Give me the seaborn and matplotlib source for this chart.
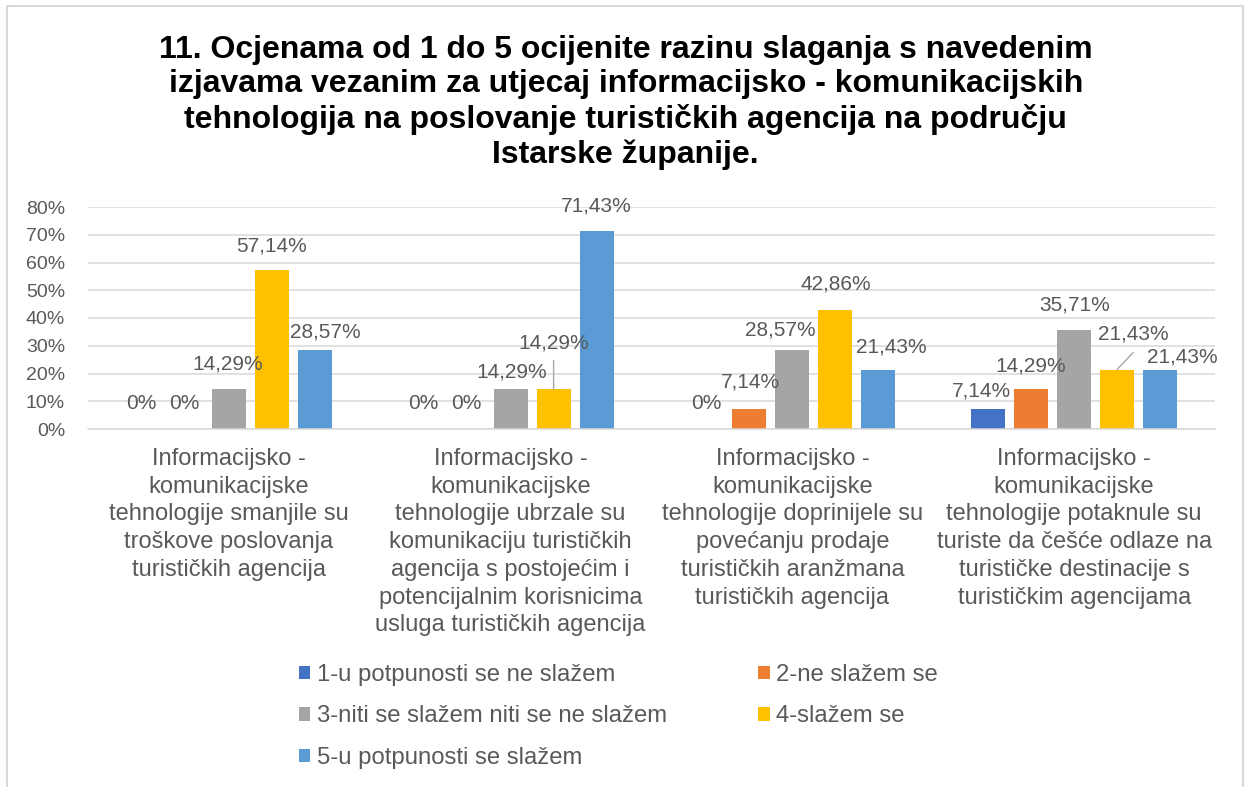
import matplotlib
matplotlib.use("Agg")
import matplotlib.pyplot as plt
import matplotlib.patches as mpatches
from matplotlib.ticker import FuncFormatter
import seaborn as sns
import pandas as pd

# ---------------- data ----------------
categories = [
    "Informacijsko -\nkomunikacijske\ntehnologije smanjile su\ntroškove poslovanja\nturističkih agencija",
    "Informacijsko -\nkomunikacijske\ntehnologije ubrzale su\nkomunikaciju turističkih\nagencija s postojećim i\npotencijalnim korisnicima\nusluga turističkih agencija",
    "Informacijsko -\nkomunikacijske\ntehnologije doprinijele su\npovećanju prodaje\nturističkih aranžmana\nturističkih agencija",
    "Informacijsko -\nkomunikacijske\ntehnologije potaknule su\nturiste da češće odlaze na\nturističke destinacije s\nturističkim agencijama",
]
series = [
    "1-u potpunosti se ne slažem",
    "2-ne slažem se",
    "3-niti se slažem niti se ne slažem",
    "4-slažem se",
    "5-u potpunosti se slažem",
]
s1 = [0.0, 0.0, 0.0, 7.14]
s2 = [0.0, 0.0, 7.14, 14.29]
s3 = [14.29, 14.29, 28.57, 35.71]
s4 = [57.14, 14.29, 42.86, 21.43]
s5 = [28.57, 71.43, 21.43, 21.43]
values = [s1, s2, s3, s4, s5]
y_ticks = [0, 10, 20, 30, 40, 50, 60, 70, 80]
title = ("11. Ocjenama od 1 do 5 ocijenite razinu slaganja s navedenim\n"
         "izjavama vezanim za utjecaj informacijsko - komunikacijskih\n"
         "tehnologija na poslovanje turističkih agencija na području\n"
         "Istarske županije.")

# ---------------- styling ----------------
colors = ["#4472C4", "#ED7D31", "#A5A5A5", "#FFC000", "#5B9BD5"]
TXT = "#595959"
GRID = "#D9D9D9"

sns.set_theme(style="white")
plt.rcParams["font.family"] = ["Liberation Sans", "DejaVu Sans"]

rows = []
for sname, vals in zip(series, values):
    for cat, v in zip(categories, vals):
        rows.append({"category": cat, "series": sname, "value": v})
df = pd.DataFrame(rows)

W, H = 1244, 787
fig = plt.figure(figsize=(W / 100, H / 100), dpi=100)
ax = fig.add_axes([88 / W, 1 - 429 / H, (1215 - 88) / W, (429 - 207) / H])

sns.barplot(data=df, x="category", y="value", hue="series",
            order=categories, hue_order=series, palette=colors,
            width=0.763, gap=0.21, saturation=1, legend=False, ax=ax,
            linewidth=0, errorbar=None)

ax.set_ylim(0, 80)
ax.set_xlim(-0.5, 3.5)
ax.set_yticks(y_ticks)
ax.yaxis.set_major_formatter(FuncFormatter(lambda v, p: f"{v:.0f}%"))
ax.yaxis.grid(True, color=GRID, linewidth=1.1)
ax.set_axisbelow(True)
for side in ["left", "right", "top"]:
    ax.spines[side].set_visible(False)
ax.spines["bottom"].set_color(GRID)
ax.spines["bottom"].set_linewidth(1.1)
ax.tick_params(axis="y", length=0, pad=16.5, labelsize=14, labelcolor=TXT)
ax.tick_params(axis="x", length=0, pad=13.5, labelsize=17, labelcolor=TXT)
for lbl in ax.get_xticklabels():
    lbl.set_linespacing(1.34)
ax.set_xlabel("")
ax.set_ylabel("")

# ---------------- data labels ----------------
# (series index, category index) -> (dx, dy) offsets in pixels of label centre from bar top
label_offsets = {
    (0, 0): (-2, 26), (1, 0): (-2, 26), (2, 0): (-1, 25), (3, 0): (0, 24), (4, 0): (10, 18),
    (0, 1): (-1, 26), (1, 1): (-1, 26), (2, 1): (1, 17), (3, 1): (0, 46), (4, 1): (0, 25),
    (0, 2): (0, 26), (1, 2): (1, 27), (2, 2): (-12, 20), (3, 2): (0, 26), (4, 2): (13, 23),
    (0, 3): (-7, 18), (1, 3): (0, 23), (2, 3): (0, 25), (3, 3): (16, 36), (4, 3): (22, 13),
}
leaders = {(3, 1): (0, 29), (3, 3): (16, 17)}

for si, cont in enumerate(ax.containers):
    for ci, bar in enumerate(cont.patches):
        v = values[si][ci]
        txt = "0%" if v == 0 else f"{v:.2f}".replace(".", ",") + "%"
        x = bar.get_x() + bar.get_width() / 2
        top = bar.get_height()
        dx, dy = label_offsets.get((si, ci), (0, 25))
        ax.annotate(txt, xy=(x, top), xytext=(dx, dy), textcoords="offset pixels",
                    ha="center", va="center", fontsize=15, color=TXT)
        if (si, ci) in leaders:
            lx, ly = leaders[(si, ci)]
            ax.annotate("", xy=(x, top), xytext=(lx, ly), textcoords="offset pixels",
                        arrowprops=dict(arrowstyle="-", color="#A6A6A6", lw=1,
                                        shrinkA=0, shrinkB=0))

# ---------------- title ----------------
fig.text(0.503, 1 - 102.5 / H, title, ha="center", va="center", fontsize=23,
         fontweight="bold", color="black", linespacing=1.19)

# ---------------- legend (row-major order) ----------------
order = [0, 2, 4, 1, 3]
handles = [ax.containers[i] for i in order]
labels = [series[i] for i in order]
leg = fig.legend(handles, labels, ncol=2, loc="center",
                 bbox_to_anchor=(618 / W, 1 - 716.5 / H), frameon=False,
                 fontsize=17.2, handlelength=0.5, handleheight=0.5,
                 handletextpad=0.26, columnspacing=3.8, labelspacing=0.82,
                 borderpad=0.2)
for t in leg.get_texts():
    t.set_color(TXT)

# ---------------- chart border ----------------
fig.patches.append(mpatches.Rectangle((6.5 / W, -0.05), (1242.5 - 6.5) / W, 1.05 - 6.5 / H,
                                      transform=fig.transFigure, fill=False,
                                      edgecolor=GRID, linewidth=1.5))

fig.savefig("out.png", dpi=100)
